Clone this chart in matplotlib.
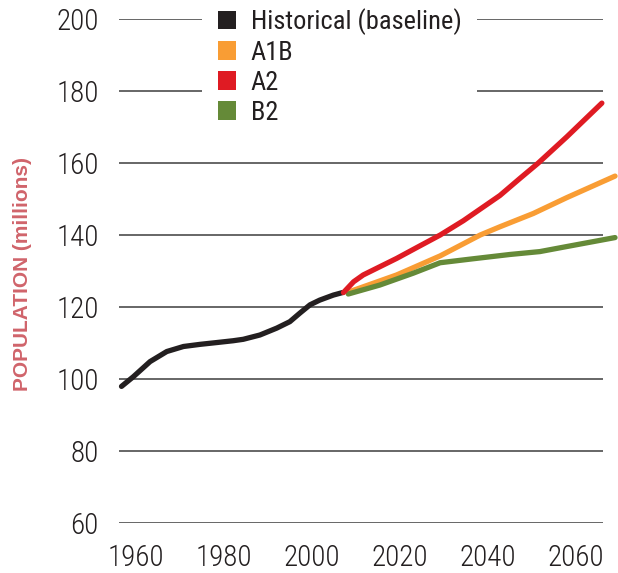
import matplotlib
matplotlib.use("Agg")
import matplotlib.pyplot as plt
from matplotlib.patches import Patch
from matplotlib import font_manager as fm

# ---- data ----
hist_years = [1956.7, 1959.4, 1963.2, 1967.0, 1970.8, 1974.6, 1978.4, 1982.1, 1984.4,
              1988.2, 1992.0, 1995.0, 1997.3, 1999.6, 2001.8, 2004.9, 2007.0]
hist_vals = [97.9, 100.6, 104.8, 107.6, 109.0, 109.6, 110.1, 110.6, 111.0,
             112.2, 114.1, 115.9, 118.3, 120.6, 121.9, 123.3, 124.0]

a2_years = [2007.2, 2009.5, 2011.7, 2015.5, 2019.3, 2024.0, 2029.2, 2034.5, 2042.8,
            2047.4, 2051.5, 2058.0, 2066.0]
a2_vals = [124.0, 127.0, 128.9, 131.2, 133.5, 136.6, 140.0, 144.0, 151.0,
           155.8, 160.0, 167.3, 176.7]

a1b_years = [2008.7, 2019.3, 2029.2, 2038.3, 2042.8, 2050.4, 2058.0, 2069.0]
a1b_vals = [124.3, 128.9, 134.2, 140.0, 142.3, 146.0, 150.4, 156.4]

b2_years = [2008.3, 2015.5, 2023.1, 2029.2, 2036.0, 2045.1, 2051.9, 2058.0, 2069.0]
b2_vals = [123.6, 126.1, 129.4, 132.3, 133.3, 134.6, 135.4, 136.8, 139.3]

x_ticks = [1960, 1980, 2000, 2020, 2040, 2060]
y_ticks = [60, 80, 100, 120, 140, 160, 180, 200]
legend_labels = ["Historical (baseline)", "A1B", "A2", "B2"]
y_label = "POPULATION (millions)"

# ---- fonts ----
avail = {f.name for f in fm.fontManager.ttflist}
cands = ["Roboto Condensed", "Fira Sans Condensed", "PT Sans Narrow",
         "Archivo Narrow", "Liberation Sans"]
NARROW = [next(c for c in cands if c in avail), "DejaVu Sans"]

# ---- style ----
C_HIST = "#231f20"
C_A1B = "#f99d34"
C_A2 = "#df1b23"
C_B2 = "#658a38"
C_TXT = "#231f20"
C_YLAB = "#d0646b"

W, H = 618, 573
fig = plt.figure(figsize=(W / 100, H / 100), dpi=100)
ax = fig.add_axes([119 / W, (H - 523) / H, (603 - 119) / W, (523 - 19) / H])

ax.set_xlim(1956.13, 2066.26)
ax.set_ylim(59.9, 200.1)

for s in ax.spines.values():
    s.set_visible(False)

ax.set_yticks(y_ticks)
ax.set_xticks(x_ticks)
ax.yaxis.grid(True, color="#5a5a5a", linewidth=1.3)
ax.xaxis.grid(False)
ax.set_axisbelow(True)
ax.tick_params(axis="both", length=0, labelcolor=C_TXT)
ax.tick_params(axis="y", pad=14.5)
ax.tick_params(axis="x", pad=15)
for lab in ax.get_xticklabels() + ax.get_yticklabels():
    lab.set_family(NARROW)
    lab.set_fontsize(21)
    lab.set_fontweight("light")

lw = 3.8
ax.plot(hist_years, hist_vals, color=C_HIST, lw=lw, solid_capstyle="round",
        solid_joinstyle="round", zorder=3, clip_on=False)
ax.plot(a1b_years, a1b_vals, color=C_A1B, lw=lw, solid_capstyle="round",
        solid_joinstyle="round", zorder=4, clip_on=False)
ax.plot(b2_years, b2_vals, color=C_B2, lw=lw, solid_capstyle="round",
        solid_joinstyle="round", zorder=5, clip_on=False)
ax.plot(a2_years, a2_vals, color=C_A2, lw=lw, solid_capstyle="round",
        solid_joinstyle="round", zorder=6, clip_on=False)

handles = [Patch(facecolor=c, edgecolor="none") for c in (C_HIST, C_A1B, C_A2, C_B2)]
leg = ax.legend(handles, legend_labels, loc="center", bbox_to_anchor=(0.456, 0.906),
                frameon=True, facecolor="white", edgecolor="none", framealpha=1,
                fancybox=False, borderpad=0.6, handlelength=0.7, handleheight=0.7,
                handletextpad=0.55, labelspacing=0.22,
                prop={"family": NARROW, "size": 19, "weight": "normal"})
leg.set_zorder(10)
for t in leg.get_texts():
    t.set_color(C_TXT)

fig.text(23 / W, 1 - 274 / H, y_label, rotation=90, ha="center", va="center",
         color=C_YLAB, fontsize=15, fontweight="bold", family=["Liberation Sans", "DejaVu Sans"])

fig.savefig("out.png", dpi=100)
